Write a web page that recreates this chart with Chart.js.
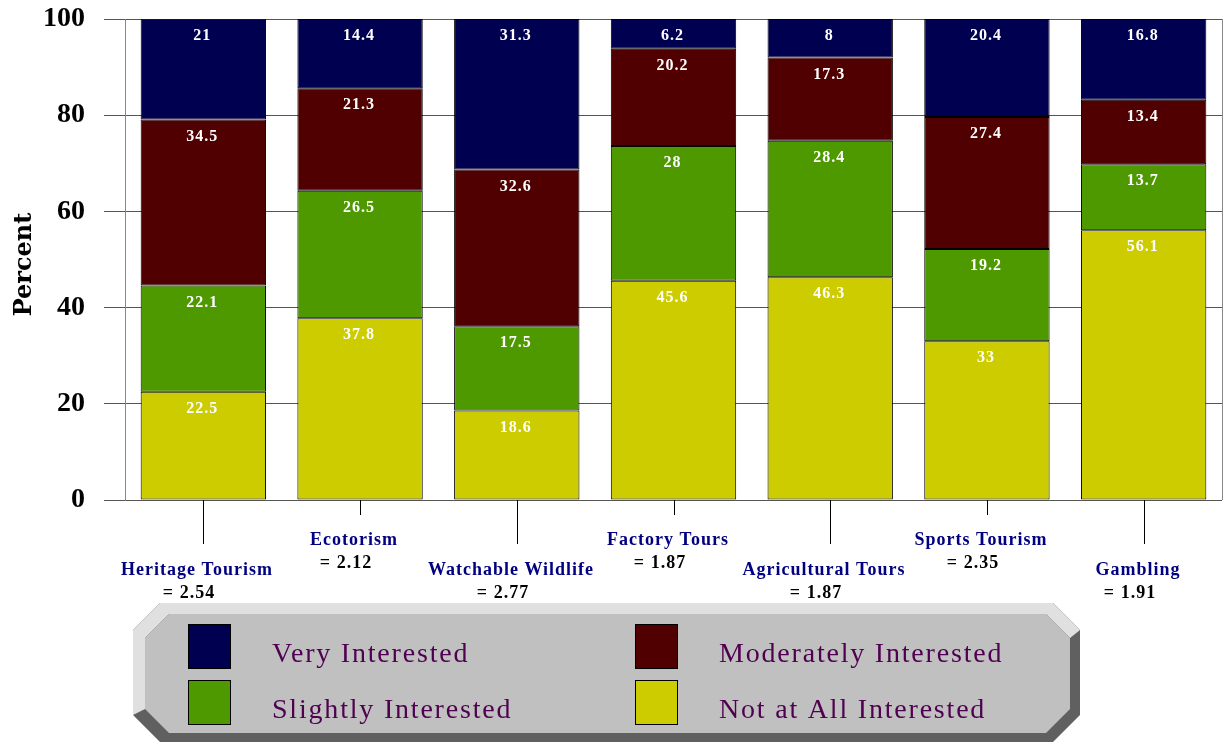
<!DOCTYPE html>
<html>
<head>
<meta charset="utf-8">
<title>Interest in tourism types</title>
<script src="https://cdn.jsdelivr.net/npm/chart.js@4.4.0/dist/chart.umd.min.js"></script>
<style>
  body { margin: 0; background: #fff; }
  canvas { display: block; }
</style>
</head>
<body>
<canvas id="grafico" width="1225" height="742"></canvas>
<script>
// survey categories and their mean interest score
const categorias = ['Heritage Tourism', 'Ecotorism', 'Watchable Wildlife', 'Factory Tours', 'Agricultural Tours', 'Sports Tourism', 'Gambling'];
const medias = ['2.54', '2.12', '2.77', '1.87', '1.87', '2.35', '1.91'];

// percent per answer, bottom of the stack first
const notAtAll   = [22.5, 37.8, 18.6, 45.6, 46.3, 33, 56.1];
const slightly   = [22.1, 26.5, 17.5, 28, 28.4, 19.2, 13.7];
const moderately = [34.5, 21.3, 32.6, 20.2, 17.3, 27.4, 13.4];
const very       = [21, 14.4, 31.3, 6.2, 8, 20.4, 16.8];

const yTicks = [0, 20, 40, 60, 80, 100];

const SERIF = "'Liberation Serif', 'Times New Roman', serif";

const ctx = document.getElementById('grafico').getContext('2d');

/* white numbers near the top of every segment */
const valueLabels = {
  id: 'valueLabels',
  afterDatasetsDraw(chart) {
    const c = chart.ctx;
    c.save();
    c.font = 'bold 16px ' + SERIF;
    c.fillStyle = '#ffffff';
    c.textAlign = 'center';
    c.textBaseline = 'middle';
    c.letterSpacing = '1px';
    chart.data.datasets.forEach((ds, i) => {
      chart.getDatasetMeta(i).data.forEach((bar, j) => {
        c.fillText(String(ds.data[j]), bar.x - 1, bar.y + 17);
      });
    });
    c.restore();
  }
};

/* staggered category names with their mean, the long/short tick lines, y title */
const categoryLabels = {
  id: 'categoryLabels',
  afterDraw(chart) {
    const c = chart.ctx;
    const x = chart.scales.x;
    const area = chart.chartArea;
    c.save();
    // right edge of the plot frame
    c.strokeStyle = '#888';
    c.lineWidth = 1;
    c.beginPath();
    c.moveTo(area.right + 0.5, area.top);
    c.lineTo(area.right + 0.5, area.bottom);
    c.stroke();

    c.textAlign = 'center';
    c.textBaseline = 'middle';
    c.letterSpacing = '1px';
    categorias.forEach((nombre, j) => {
      const px = Math.round(x.getPixelForValue(j));
      const bajo = j % 2 === 0;
      c.strokeStyle = '#000';
      c.beginPath();
      c.moveTo(px + 0.5, area.bottom);
      c.lineTo(px + 0.5, bajo ? 544 : 515);
      c.stroke();

      const y0 = bajo ? 570 : 540;
      c.font = 'bold 18px ' + SERIF;
      c.fillStyle = '#000080';
      c.fillText(nombre, px - 6, y0);
      c.fillStyle = '#000';
      c.fillText('= ' + medias[j], px - 14, y0 + 23);
    });

    // axis title
    c.letterSpacing = '0px';
    c.translate(25, (area.top + area.bottom) / 2 + 5);
    c.rotate(-Math.PI / 2);
    c.font = "bold 24px 'DejaVu Serif', serif";
    c.fillStyle = '#000';
    c.fillText('Percent', 0, 0);
    c.restore();
  }
};

/* beveled grey legend box under the chart */
const boxLegend = {
  id: 'boxLegend',
  afterDraw(chart) {
    const c = chart.ctx;
    const poly = pts => {
      c.beginPath();
      c.moveTo(pts[0][0], pts[0][1]);
      for (let k = 1; k < pts.length; k++) c.lineTo(pts[k][0], pts[k][1]);
      c.closePath();
      c.fill();
    };
    const L = 133, R = 1080, T = 603, B = 742, cut = 27;
    const l = 145, r = 1070, t = 614, b = 733, cin = 24;
    c.save();
    c.fillStyle = '#606060';
    poly([[L + cut, T], [R - cut, T], [R, T + cut], [R, B - cut], [R - cut, B], [L + cut, B], [L, B - cut], [L, T + cut]]);
    c.fillStyle = '#e0e0e0';
    poly([[L, B - cut], [L, T + cut], [L + cut, T], [R - cut, T], [R, T + cut],
          [r, t + cin], [r - cin, t], [l + cin, t], [l, t + cin], [l, b - cin]]);
    c.fillStyle = '#c0c0c0';
    poly([[l + cin, t], [r - cin, t], [r, t + cin], [r, b - cin], [r - cin, b], [l + cin, b], [l, b - cin], [l, t + cin]]);

    // legend order: Very, Moderately / Slightly, Not at All
    const orden = [3, 2, 1, 0];
    const sets = chart.data.datasets;
    c.font = '28px ' + SERIF;
    c.letterSpacing = '1.8px';
    c.textBaseline = 'alphabetic';
    c.textAlign = 'left';
    orden.forEach((idx, k) => {
      const col = k % 2, fila = Math.floor(k / 2);
      const sx = col === 0 ? 188 : 635;
      const sy = fila === 0 ? 624 : 680;
      c.fillStyle = sets[idx].backgroundColor;
      c.fillRect(sx, sy, 42, 44);
      c.strokeStyle = '#000';
      c.lineWidth = 1;
      c.strokeRect(sx + 0.5, sy + 0.5, 42, 44);
      c.fillStyle = '#500050';
      c.fillText(sets[idx].label, sx + 84, sy + 38);
    });
    c.restore();
  }
};

window.miGrafico = new Chart(ctx, {
  type: 'bar',
  data: {
    labels: categorias,
    datasets: [
      { label: 'Not at All Interested', data: notAtAll,   backgroundColor: '#cccc00' },
      { label: 'Slightly Interested',   data: slightly,   backgroundColor: '#4f9900' },
      { label: 'Moderately Interested', data: moderately, backgroundColor: '#500000' },
      { label: 'Very Interested',       data: very,       backgroundColor: '#000050' }
    ].map(ds => Object.assign(ds, {
      borderColor: '#000',
      borderWidth: 1,
      borderSkipped: false,
      inflateAmount: 0,
      categoryPercentage: 0.8,
      barPercentage: 1
    }))
  },
  options: {
    responsive: false,
    animation: false,
    devicePixelRatio: 1,
    layout: { padding: { top: 19, right: 3, left: 0, bottom: 0 } },
    plugins: {
      legend: { display: false },
      tooltip: { enabled: false }
    },
    scales: {
      x: {
        stacked: true,
        grid: { display: false },
        border: { display: false },
        ticks: { display: false },
        afterFit: s => { s.height = 242; }
      },
      y: {
        stacked: true,
        min: 0,
        max: 100,
        afterBuildTicks: s => { s.ticks = yTicks.map(v => ({ value: v })); },
        grid: { color: '#555', tickColor: '#555', tickLength: 21 },
        border: { color: '#888' },
        ticks: {
          padding: 19,
          color: '#000',
          font: { family: SERIF, size: 28, weight: 'bold' }
        },
        afterFit: s => {
          s.width = 125;
          s.paddingTop = 0;
          s.paddingBottom = 0;
        }
      }
    }
  },
  plugins: [valueLabels, categoryLabels, boxLegend]
});
</script>
</body>
</html>
